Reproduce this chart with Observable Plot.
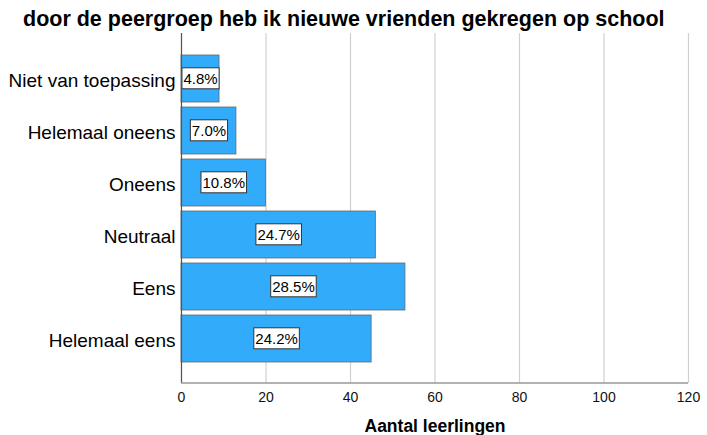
<!DOCTYPE html>
<html>
<head>
<meta charset="utf-8">
<script src="https://cdn.jsdelivr.net/npm/d3@7"></script>
<script src="https://cdn.jsdelivr.net/npm/@observablehq/plot@0.6"></script>
<style>
  body { margin: 0; background: #fff; font-family: "Liberation Sans", Arial, sans-serif; }
  #title { height: 33px; box-sizing: border-box; padding: 9px 0 0 23px; font-weight: bold; font-size: 21.5px; line-height: 21px; color: #000; white-space: nowrap; }
  #chart svg { display: block; }
</style>
</head>
<body>
<div id="title">door de peergroep heb ik nieuwe vrienden gekregen op school</div>
<div id="chart"></div>
<script>
const categories = ["Niet van toepassing", "Helemaal oneens", "Oneens", "Neutraal", "Eens", "Helemaal eens"];
const counts = [9, 13, 20, 46, 53, 45];
const percentLabels = ["4.8%", "7.0%", "10.8%", "24.7%", "28.5%", "24.2%"];
const xTicks = [0, 20, 40, 60, 80, 100, 120];
const xTitle = "Aantal leerlingen";

const data = categories.map((c, i) => ({cat: c, count: counts[i], label: percentLabels[i]}));

const H = 402, MB = 52;
const plot = Plot.plot({
  width: 707,
  height: H,
  marginLeft: 181,
  marginRight: 19,
  marginTop: 0,
  marginBottom: MB,
  style: {fontFamily: "Liberation Sans, Arial, sans-serif", background: "#fff"},
  x: {domain: [0, 120], ticks: xTicks, label: null},
  y: {domain: categories, padding: 0.1, insetTop: 15, insetBottom: 14, label: null},
  marks: [
    Plot.gridX(xTicks, {stroke: "#d0d0d0", strokeOpacity: 1, strokeWidth: 1.2}),
    Plot.barX(data, {x: "count", y: "cat", fill: "#33abfb", stroke: "#5a6a78", strokeWidth: 0.8}),
    Plot.text(data, {x: d => d.count / 2, y: "cat", text: "label", fontSize: 15, fill: "#000", className: "pct"}),
    Plot.axisX(xTicks, {tickSize: 0, tickPadding: 9, fontSize: 14, fill: "#111", label: null}),
    Plot.axisY({tickSize: 0, tickPadding: 6, fontSize: 19, fill: "#000", label: null, dy: 2}),
    Plot.ruleX([0], {stroke: "#555", strokeWidth: 1.2}),
    Plot.text([xTitle], {frameAnchor: "bottom", dy: 48, text: d => d, fontWeight: "bold", fontSize: 17.5, fill: "#000"})
  ]
});
document.getElementById("chart").appendChild(plot);

// bottom axis line
{
  const x = plot.scale("x");
  d3.select(plot).append("line")
    .attr("x1", x.apply(0)).attr("x2", x.apply(120))
    .attr("y1", H - MB).attr("y2", H - MB)
    .attr("stroke", "#999").attr("stroke-width", 1.3);
}

// white boxes behind percentage labels
d3.select(plot).selectAll("g.pct text").each(function() {
  const b = this.getBBox();
  const padX = 1.5, padY = 2.5;
  const r = document.createElementNS("http://www.w3.org/2000/svg", "rect");
  r.setAttribute("x", b.x - padX);
  r.setAttribute("y", b.y - padY + 0.5);
  r.setAttribute("width", b.width + 2 * padX);
  r.setAttribute("height", b.height + 2 * padY - 1);
  r.setAttribute("fill", "#fff");
  r.setAttribute("stroke", "#333");
  r.setAttribute("stroke-width", "1");
  const t = this.getAttribute("transform");
  if (t) r.setAttribute("transform", t);
  this.parentNode.insertBefore(r, this);
});
</script>
</body>
</html>
